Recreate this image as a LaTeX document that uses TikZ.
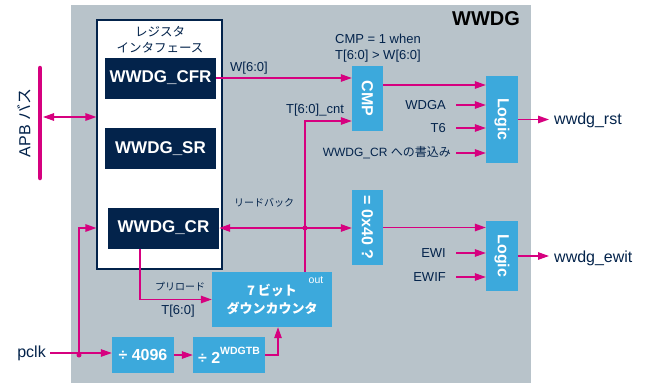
\documentclass[tikz,border=0pt]{standalone}
\usepackage{fontspec}
\setmainfont{Liberation Sans}
\newfontfamily\jp{Noto Sans CJK JP}
\usetikzlibrary{arrows.meta,calc}
\definecolor{stnavy}{HTML}{03234B}
\definecolor{stblue}{HTML}{3CA9DC}
\definecolor{stpink}{HTML}{D6007F}
\definecolor{stgray}{HTML}{B8C3CA}

\begin{document}
\begin{tikzpicture}[x=1pt,y=-1pt,
  reg/.style={fill=stnavy,text=white,font=\fontsize{17}{17}\selectfont\bfseries,minimum width=111pt,minimum height=41pt,inner sep=0pt},
  blk/.style={fill=stblue,inner sep=0pt},
  blktext/.style={text=white,font=\fontsize{16}{16}\selectfont\bfseries},
  lbl/.style={text=stnavy,font=\fontsize{13}{16}\selectfont,inner sep=1pt},
  wire/.style={stpink,line width=1.3pt},
  sig/.style={wire,-{Triangle[length=11pt,width=7.5pt]}},
  dot/.style={circle,fill=stpink,inner sep=0pt,minimum size=5pt}]

\useasboundingbox (0,0) rectangle (656,383);
\fill[stgray] (71,5) rectangle (531,383);
\node[font=\fontsize{20}{20}\selectfont\bfseries] (title) at (486,19) {WWDG};

% register interface
\node[draw=stnavy,line width=1.2pt,fill=white,minimum width=125pt,minimum height=249pt,inner sep=0pt] (regbox) at (159.5,144.5) {};
\node[lbl,font=\jp\fontsize{12.5}{16}\selectfont,align=center] (regtitle) at (160,40) {レジスタ\\インタフェース};
\node[reg] (cfr) at (160.5,78) {WWDG\_CFR};
\node[reg] (sr) at (160.5,148.5) {WWDG\_SR};
\node[reg] (cr) at (163.5,228) {WWDG\_CR};

% APB bus
\draw[stpink,line width=4.5pt,line cap=round] (40,68) coordinate (apbtop) -- (40,178) coordinate (apbbot);
\node[lbl,rotate=90,font=\fontsize{16}{16}\selectfont] (apblabel) at (24,123) {APB {\jp バス}};
\coordinate (apbport) at (43,117);
\draw[wire,{Triangle[length=11pt,width=7.5pt]}-{Triangle[length=11pt,width=7.5pt]}] (apbport) -- (apbport -| regbox.west);

% blocks
\node[blk,minimum width=31pt,minimum height=65pt] (cmp) at (367.5,98.5) {};
\node[blktext,rotate=-90] at (cmp) {CMP};
\node[blk,minimum width=31pt,minimum height=75pt] (eq) at (367.5,227.5) {};
\node[blktext,rotate=-90] at (eq) {= 0x40 ?};
\node[blk,minimum width=32pt,minimum height=87pt] (logicA) at (502,119.5) {};
\node[blktext,rotate=-90] at (logicA) {Logic};
\node[blk,minimum width=32pt,minimum height=70pt] (logicB) at (502,256) {};
\node[blktext,rotate=-90] at (logicB) {Logic};
\node[blk,minimum width=120pt,minimum height=55pt,text=white,align=center,font=\jp\fontsize{13}{18}\selectfont\bfseries] (cnt) at (272,299.5) {7 ビット\\ダウンカウンタ};
\node[text=white,font=\fontsize{10.5}{10.5}\selectfont,inner sep=0pt] (outlbl) at (316,280) {out};
\node[blk,blktext,minimum width=62pt,minimum height=36pt] (div) at (143,355) {÷ 4096};
\node[blk,blktext,minimum width=72pt,minimum height=36pt] (pre) at (229,355) {÷ 2\raisebox{1.1ex}{\fontsize{10.5}{10.5}\selectfont WDGTB}};

% labels
\node[lbl,anchor=west] (wlbl) at (229,68) {W[6:0]};
\node[lbl,align=center] (cmpnote) at (378,48) {CMP = 1 when\\T[6:0] > W[6:0]};
\node[lbl] (tcnt) at (315,110) {T[6:0]\_cnt};
\node[lbl,font=\jp\fontsize{10}{10}\selectfont] (rblbl) at (264,203) {リードバック};
\node[lbl,font=\jp\fontsize{10}{10}\selectfont] (prelbl) at (180,287) {プリロード};
\node[lbl] (tlbl) at (178,311) {T[6:0]};

% logic inputs
\node[lbl,anchor=east] (wdga) at (447,105) {WDGA};
\node[lbl,anchor=east] (tsix) at (447,128) {T6};
\node[lbl,anchor=east,font=\fontsize{12}{12}\selectfont] (crwr) at (452,153) {WWDG\_CR {\jp への書込み}};
\node[lbl,anchor=east] (ewi) at (447,253) {EWI};
\node[lbl,anchor=east] (ewif) at (447,277) {EWIF};
\foreach \n in {wdga,tsix,ewi,ewif}
  \draw[sig,shorten <=9pt] (\n.east) -- (\n.east -| logicA.west);
\draw[sig,shorten <=4pt] (crwr.east) -- (crwr.east -| logicA.west);

% outputs
\node[lbl,anchor=west,font=\fontsize{16}{16}\selectfont] (rst) at (553,120) {wwdg\_rst};
\node[lbl,anchor=west,font=\fontsize{16}{16}\selectfont] (ewit) at (553,258) {wwdg\_ewit};
\draw[sig,shorten >=4pt] (logicA.east) -- (logicA.east -| rst.west);
\draw[sig,shorten >=4pt] (logicB.east) -- (logicB.east -| ewit.west);

% clock
\node[lbl,anchor=east,font=\fontsize{16}{16}\selectfont] (pclk) at (47,353) {pclk};
\node[dot] (pj) at (79,355) {};
\draw[sig,shorten <=3pt] (pclk.east) -- (pclk.east -| div.west);
\draw[sig] (pj.center) |- (cr.east -| regbox.west);
\draw[sig] (div.east) -- (pre.west);
\draw[sig] (pre.east) -| ([xshift=6pt]cnt.south);

% counter and compare paths
\coordinate (cntout) at ([xshift=33pt]cnt.north);
\node[dot] (rb) at (cntout |- cr.east) {};
\draw[sig] (cntout) |- ([yshift=-22.5pt]cmp.west);
\draw[sig] (rb.center) -- (cr.east);
\draw[sig] (rb.center) -- (rb.center -| eq.west);
\draw[sig] (eq.east) -- (eq.east -| logicB.west);
\draw[sig] (cfr.east) -- (cfr.east -| cmp.west);
\draw[sig] ([yshift=13.5pt]cmp.east) -- ([yshift=13.5pt]cmp.east -| logicA.west);
\draw[sig] ([xshift=-23.5pt]cr.south) |- (cnt.west);
\end{tikzpicture}
\end{document}
